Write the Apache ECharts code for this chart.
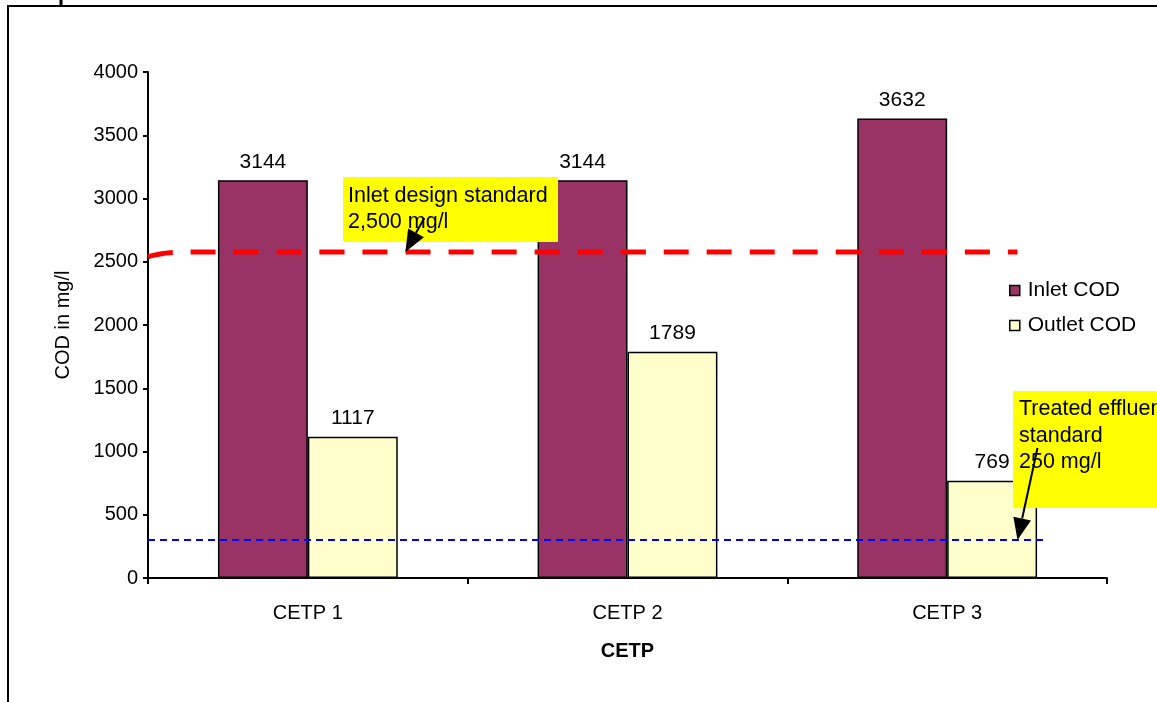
<!DOCTYPE html>
<html>
<head>
<meta charset="utf-8">
<script src="https://cdn.jsdelivr.net/npm/echarts@6/dist/echarts.min.js"></script>
<style>
html,body{margin:0;padding:0;background:#fff;}
#c{width:1157px;height:702px;}
</style>
</head>
<body>
<div id="c"></div>
<script>
// ---- data ----
var categories = ['CETP 1', 'CETP 2', 'CETP 3'];
var inletCOD = [3144, 3144, 3632];
var outletCOD = [1117, 1789, 769];
var yTicks = [0, 500, 1000, 1500, 2000, 2500, 3000, 3500, 4000];
// reference lines drawn on a hidden 0..3 category-span axis
var inletStdLine = [[0, 2540], [0.07, 2572], [0.2, 2577], [2.72, 2577]];
var effluentStdLine = [[0, 300], [2.8, 300]];

var FONT = '"Liberation Sans", Arial, sans-serif';
var chart = echarts.init(document.getElementById('c'));

var option = {
  animation: false,
  backgroundColor: '#fff',
  textStyle: { fontFamily: FONT, color: '#000' },
  grid: { left: 148, right: 50, top: 72, bottom: 124, containLabel: false },
  legend: {
    orient: 'vertical',
    left: 1004,
    top: 275,
    itemWidth: 10,
    itemHeight: 10,
    itemGap: 14,
    icon: 'rect',
    itemStyle: { borderColor: '#000', borderWidth: 1.5 },
    textStyle: { fontSize: 21, color: '#000', fontFamily: FONT, padding: [0, 0, 0, 3] },
    data: ['Inlet COD', 'Outlet COD']
  },
  xAxis: [{
    type: 'category',
    data: categories,
    name: 'CETP',
    nameLocation: 'middle',
    nameGap: 63,
    nameTextStyle: { fontSize: 20, fontWeight: 'bold', color: '#000', fontFamily: FONT },
    axisLine: { lineStyle: { color: '#000', width: 2 } },
    axisTick: { show: true, length: 6, lineStyle: { color: '#000', width: 2 } },
    axisLabel: { fontSize: 20, color: '#000', margin: 25, fontFamily: FONT },
    splitLine: { show: false }
  }, {
    type: 'value',
    min: 0, max: 3,
    show: false
  }],
  yAxis: {
    type: 'value',
    min: yTicks[0],
    max: yTicks[yTicks.length - 1],
    interval: 500,
    name: 'COD in mg/l',
    nameLocation: 'middle',
    nameGap: 75,
    nameTextStyle: { fontSize: 20, color: '#000', fontFamily: FONT },
    axisLine: { show: true, lineStyle: { color: '#000', width: 2 } },
    axisTick: { show: true, inside: false, length: 5, lineStyle: { color: '#000', width: 2 } },
    axisLabel: { fontSize: 20, color: '#000', margin: 10, fontFamily: FONT,
      formatter: function (v) { return String(v); } },
    splitLine: { show: false }
  },
  series: [{
    name: 'Inlet COD',
    type: 'bar',
    data: inletCOD,
    barGap: '0%',
    barCategoryGap: '43.75%',
    itemStyle: { color: '#993366', borderColor: '#000', borderWidth: 1.5 },
    label: { show: true, position: 'top', distance: 8, fontSize: 21, color: '#000', fontFamily: FONT },
    z: 2
  }, {
    name: 'Outlet COD',
    type: 'bar',
    data: outletCOD,
    barGap: '0%',
    barCategoryGap: '43.75%',
    itemStyle: { color: '#FFFFCC', borderColor: '#000', borderWidth: 1.5 },
    label: { show: true, position: 'top', distance: 8, fontSize: 21, color: '#000', fontFamily: FONT },
    z: 2
  }, {
    name: 'inletStd',
    type: 'line',
    xAxisIndex: 1,
    data: inletStdLine,
    smooth: 0.4,
    symbol: 'none',
    silent: true,
    lineStyle: { color: '#FF0000', width: 5, type: [25, 18] },
    z: 5
  }, {
    name: 'effluentStd',
    type: 'line',
    xAxisIndex: 1,
    data: effluentStdLine,
    symbol: 'none',
    silent: true,
    lineStyle: { color: '#0000FF', width: 2, type: [7, 5] },
    z: 5
  }]
};
chart.setOption(option);

function arrow(x1, y1, x2, y2) {
  var dx = x2 - x1, dy = y2 - y1, L = Math.sqrt(dx * dx + dy * dy);
  var ux = dx / L, uy = dy / L, hl = 22, hw = 9;
  var bx = x2 - ux * hl, by = y2 - uy * hl;
  return [{
    type: 'line', z: 100,
    shape: { x1: x1, y1: y1, x2: bx, y2: by },
    style: { stroke: '#000', lineWidth: 2 }
  }, {
    type: 'polygon', z: 100,
    shape: { points: [[x2, y2], [bx - uy * hw, by + ux * hw], [bx + uy * hw, by - ux * hw]] },
    style: { fill: '#000' }
  }];
}

// annotation arrows point to the reference lines via the axis scale
var p1 = chart.convertToPixel({ xAxisIndex: 1, yAxisIndex: 0 }, [0.805, 2577]);
var p2 = chart.convertToPixel({ xAxisIndex: 1, yAxisIndex: 0 }, [2.72, 300]);

var graphics = [
  { type: 'line', shape: { x1: 8, y1: 6, x2: 1157, y2: 6 }, style: { stroke: '#000', lineWidth: 2 } },
  { type: 'line', shape: { x1: 8, y1: 5, x2: 8, y2: 702 }, style: { stroke: '#000', lineWidth: 2 } },
  { type: 'line', shape: { x1: 61, y1: 0, x2: 61, y2: 6 }, style: { stroke: '#000', lineWidth: 3 } },
  { type: 'rect', z: 50, shape: { x: 343, y: 177, width: 215, height: 65 }, style: { fill: '#FFFF00' } },
  { type: 'text', z: 60, left: 348, top: 183,
    style: { text: 'Inlet design standard\n2,500 mg/l', font: '21.5px ' + FONT, fill: '#000', lineHeight: 26 } },
  { type: 'rect', z: 50, shape: { x: 1013, y: 391, width: 150, height: 117 }, style: { fill: '#FFFF00' } },
  { type: 'text', z: 60, left: 1019, top: 396,
    style: { text: 'Treated effluent\nstandard\n250 mg/l', font: '21.5px ' + FONT, fill: '#000', lineHeight: 26.5 } }
];
graphics = graphics.concat(arrow(p1[0] + 19, 218, p1[0], p1[1]));
graphics = graphics.concat(arrow(p2[0] + 20, 448, p2[0], p2[1]));
chart.setOption({ graphic: graphics });
</script>
</body>
</html>
